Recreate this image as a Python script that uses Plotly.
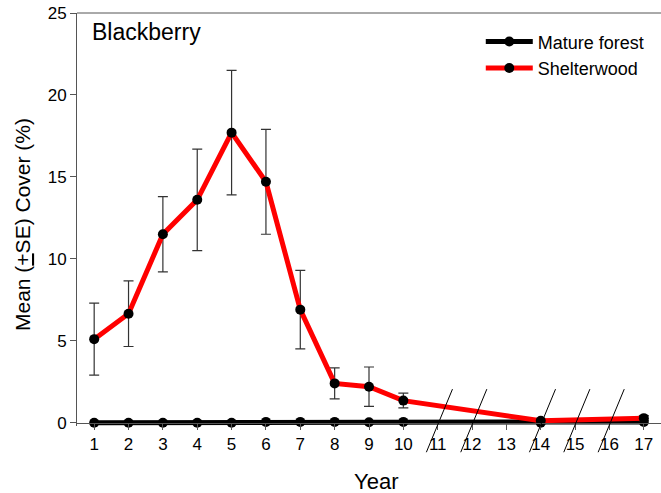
import plotly.graph_objects as go

years = list(range(1, 18))
mature = [0.0, 0.0, 0.0, 0.0, 0.0, 0.05, 0.05, 0.05, 0.03, 0.05, None, None, None, 0.0, None, None, 0.05]
shelter = [5.1, 6.65, 11.5, 13.6, 17.7, 14.7, 6.9, 2.4, 2.2, 1.35, None, None, None, 0.12, None, None, 0.28]
shelter_se = [2.2, 2.0, 2.3, 3.1, 3.8, 3.2, 2.4, 0.95, 1.2, 0.45, None, None, None, 0.1, None, None, 0.15]
slash_years = [11, 12, 14, 15, 16]

FONT = "Liberation Sans, Arial, sans-serif"
X0, X1 = 0.5, 17.5
Y0, Y1 = -0.2, 25
PLOT_W, PLOT_H = 584, 413

fig = go.Figure()
fig.add_trace(go.Scatter(
    x=years, y=mature, name="Mature forest", mode="lines+markers",
    connectgaps=True, cliponaxis=False,
    line=dict(color="black", width=5),
    marker=dict(color="black", size=10),
))
fig.add_trace(go.Scatter(
    x=years, y=shelter, name="Shelterwood", mode="lines+markers",
    connectgaps=True, cliponaxis=False,
    line=dict(color="#ff0000", width=5),
    marker=dict(color="black", size=10),
    error_y=dict(type="data", array=shelter_se, visible=True,
                 color="#333333", thickness=1.2, width=5),
))

shapes = []
for yv in slash_years:
    shapes.append(dict(
        type="line", xref="paper", yref="paper",
        x0=(yv - 0.33 - X0) / (X1 - X0), y0=(-1.8 - Y0) / (Y1 - Y0),
        x1=(yv + 0.43 - X0) / (X1 - X0), y1=(2.05 - Y0) / (Y1 - Y0),
        line=dict(color="black", width=1),
    ))
# top frame line
shapes.append(dict(type="line", xref="paper", yref="paper", x0=0, x1=1, y0=1, y1=1,
                   line=dict(color="#555555", width=1)))

fig.update_layout(
    width=661, height=493,
    margin=dict(l=77, r=0, t=13, b=67),
    paper_bgcolor="white", plot_bgcolor="white",
    font=dict(family=FONT, color="black", size=17),
    showlegend=True,
    legend=dict(x=0.6914, y=0.975, xanchor="left", yanchor="top",
                font=dict(size=18, family=FONT), bgcolor="rgba(0,0,0,0)",
                itemwidth=47, tracegroupgap=0),
    xaxis=dict(range=[X0, X1], tickvals=years, ticktext=[str(v) for v in years],
               ticks="outside", ticklen=6, tickcolor="#555555",
               showline=True, linecolor="#555555", linewidth=1,
               showgrid=False, zeroline=False,
               anchor="free", position=(0 - Y0) / (Y1 - Y0),
               tickfont=dict(size=17)),
    yaxis=dict(range=[Y0, Y1], tickvals=[0, 5, 10, 15, 20, 25],
               ticks="outside", ticklen=6, tickcolor="#555555",
               showline=True, linecolor="#555555", linewidth=1,
               showgrid=False, zeroline=False,
               tickfont=dict(size=17)),
    shapes=shapes,
    annotations=[
        dict(text="Blackberry", xref="paper", yref="paper",
             x=(90 - 77) / PLOT_W, y=1 - (17 - 13) / PLOT_H, xanchor="left", yanchor="top",
             showarrow=False, font=dict(size=23, family=FONT)),
        dict(text="Year", xref="paper", yref="paper",
             x=(376 - 77) / PLOT_W, y=-(481 - 426) / PLOT_H, xanchor="center", yanchor="middle",
             showarrow=False, font=dict(size=22, family=FONT)),
        dict(text="Mean (<u>+</u>SE) Cover (%)", xref="paper", yref="paper", textangle=-90,
             x=(22 - 77) / PLOT_W, y=(426 - 225) / PLOT_H, xanchor="center", yanchor="middle",
             showarrow=False, font=dict(size=21, family=FONT)),
    ],
)

fig.write_html("out.html")
